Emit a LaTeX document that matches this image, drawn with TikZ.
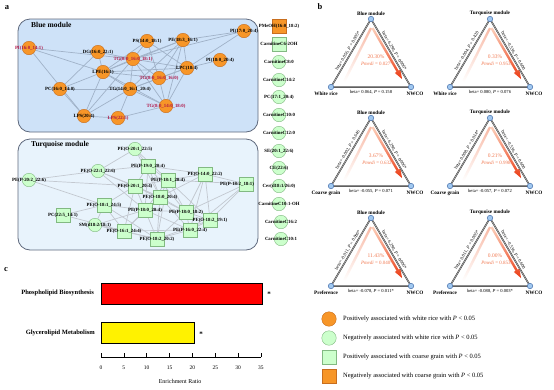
\documentclass[tikz,border=0pt]{standalone}
\usepackage{fontspec}
\setmainfont{Liberation Serif}
\usetikzlibrary{positioning,backgrounds}

\definecolor{orangeN}{RGB}{247,150,40}
\definecolor{orangeD}{RGB}{200,110,30}
\definecolor{greenN}{RGB}{204,255,204}
\definecolor{greenD}{RGB}{130,185,130}
\definecolor{blueBox}{RGB}{206,226,248}
\definecolor{tqBox}{RGB}{232,243,252}
\definecolor{boxLine}{RGB}{95,105,125}
\definecolor{bEdge}{RGB}{160,178,200}
\definecolor{tEdge}{RGB}{195,200,208}
\definecolor{redLab}{RGB}{175,20,70}
\definecolor{pctC}{RGB}{240,120,80}
\definecolor{arrTop}{RGB}{252,210,190}
\definecolor{arrBot}{RGB}{235,60,20}
\definecolor{bandC}{RGB}{248,185,165}
\definecolor{dotF}{RGB}{160,200,240}
\definecolor{dotD}{RGB}{70,110,170}

\newcommand{\medtri}[8]{%
  \begin{scope}[#1]
    \coordinate (top) at (0,0);
    \coordinate (l) at (-40,68);
    \coordinate (r) at (40,68);
    \shade[top color=bandC,bottom color=white] (-1,8.5) -- (1,9.5) -- (-25.5,63) -- (-28,62) -- cycle;
    \shade[top color=arrTop,bottom color=arrBot] (0.46,9.6) -- (2.54,8.4) -- (27.64,51.7) -- (29.37,50.69)
      -- (31.1,60.1) -- (23.83,53.91) -- (25.56,52.9) -- cycle;
    \draw[triedge] (top) -- (l) -- (r) -- cycle;
    \node[vdot] (vt) at (top) {};
    \node[vdot] (vl) at (l) {};
    \node[vdot] (vr) at (r) {};
    \node[tname,anchor=south] (ttl) at (vt.north) {#2};
    \node[tname,anchor=north] (expo) at ([xshift=-5pt,yshift=-1.5pt]vl.south) {#3};
    \node[tname,anchor=north] (outc) at ([xshift=4pt,yshift=-1.5pt]vr.south) {NWCO};
    \path (vl) -- (vt) node[beta,midway,sloped,above=1pt] {#4};
    \path (vt) -- (vr) node[beta,midway,sloped,above=1pt] {#5};
    \path (vl) -- (vr) node[beta,midway,below=2.5pt] {#6};
    \node[pct] (pc) at (5,38) {#7};
    \node[pct,font=\fontsize{5}{5.5}\selectfont] (pm) at (6,45) {\textit{Pmedi} = #8};
  \end{scope}}

\begin{document}
\begin{tikzpicture}[x=1pt,y=-1pt,
  lbl/.style={font=\fontsize{4.8}{5}\selectfont\bfseries,inner sep=0pt},
  redlbl/.style={text=redLab},
  every label/.style={lbl},
  poscirc/.style={circle,draw=orangeD,fill=orangeN,line width=0.4pt,minimum size=13.5pt,inner sep=0pt},
  negcirc/.style={circle,draw=greenD,fill=greenN,line width=0.4pt,minimum size=13.5pt,inner sep=0pt},
  possq/.style={rectangle,draw=greenD,fill=greenN,line width=0.4pt,minimum size=13.5pt,inner sep=0pt},
  negsq/.style={rectangle,draw=orangeD,fill=orangeN,line width=0.4pt,minimum size=13.5pt,inner sep=0pt},
  module/.style={draw=boxLine,line width=0.8pt,rounded corners=12pt},
  modttl/.style={font=\fontsize{7.5}{8}\selectfont\bfseries,anchor=west,inner sep=0pt},
  bedge/.style={draw=bEdge,line width=0.7pt},
  tedge/.style={draw=tEdge,line width=0.7pt},
  panel/.style={font=\fontsize{8.5}{9}\selectfont\bfseries,inner sep=0pt},
  vdot/.style={circle,draw=dotD,fill=dotF,line width=0.5pt,minimum size=5.5pt,inner sep=0pt},
  triedge/.style={draw=black!80,line width=0.45pt,double=black!30,double distance=0.6pt},
  tname/.style={font=\fontsize{5.2}{5.5}\selectfont\bfseries,inner sep=0.5pt},
  beta/.style={font=\fontsize{4.6}{5}\selectfont,inner sep=0.5pt},
  pct/.style={font=\fontsize{5.5}{6}\selectfont,text=pctC,inner sep=0pt},
  legtxt/.style={font=\fontsize{6.5}{7}\selectfont,anchor=west,inner sep=0pt},
  cat/.style={font=\fontsize{6.5}{7}\selectfont\bfseries,anchor=east,inner sep=0pt},
  tick/.style={font=\fontsize{5.5}{6}\selectfont,inner sep=0pt},
  bar/.style={draw=black,line width=0.6pt}]
  \useasboundingbox (0,0) rectangle (554,389);

  \node[panel] (pa) at (7,8) {a};
  \node[panel] (pb) at (320,7) {b};
  \node[panel] (pcc) at (6,270) {c};

  \node[modttl] (bt) at (31,25) {Blue module};
  \node[modttl] (tt) at (31,145) {Turquoise module};

  \node[poscirc,label={[redlbl]center:{PI(16:0\_14:1)}}] (pi16) at (29,48) {};
  \node[poscirc,label={center:{DG(16:0\_22:1)}}] (dg) at (98,52) {};
  \node[poscirc,label={center:{PS(14:0\_18:1)}}] (ps) at (147,41) {};
  \node[poscirc,label={center:{PE(18:3\_16:1)}}] (pe183) at (183,40) {};
  \node[poscirc,label={center:{PI(17:0\_20:4)}}] (pi17) at (244,31) {};
  \node[poscirc,label={[redlbl]center:{TG(8:0\_16:0\_18:1)}}] (tg818) at (133,59) {};
  \node[poscirc,label={center:{PI(18:0\_20:4)}}] (pi18) at (220,60) {};
  \node[poscirc,label={center:{LPE(16:1)}}] (lpe) at (103,72) {};
  \node[poscirc,label={center:{LPC(18:4)}}] (lpc) at (187,68) {};
  \node[poscirc,label={[redlbl]center:{TG(8:0\_16:0\_16:0)}}] (tg816) at (159,78) {};
  \node[poscirc,label={center:{PC(16:0\_14:0)}}] (pc16) at (60,89) {};
  \node[poscirc,label={center:{TG(14:0\_16:1\_20:4)}}] (tg14) at (130,89) {};
  \node[poscirc,label={[redlbl]center:{TG(8:0\_14:0\_18:0)}}] (tg814) at (166,106) {};
  \node[poscirc,label={center:{LPS(20:4)}}] (lps204) at (84,116) {};
  \node[poscirc,label={[redlbl]center:{LPS(22:5)}}] (lps225) at (118,118) {};

  \node[negcirc,label={center:{PE(O-20:1\_22:5)}}] (tq1) at (135,149) {};
  \node[negcirc,label={center:{PE(O-22:1\_22:6)}}] (tq2) at (98,171) {};
  \node[negcirc,label={center:{PE(P-20:2\_22:6)}}] (tq3) at (29,180) {};
  \node[possq,label={center:{PE(P-19:0\_20:4)}}] (tq4) at (148,166) {};
  \node[possq,label={center:{PE(O-14:0\_22:2)}}] (tq5) at (205,174) {};
  \node[possq,label={center:{PE(P-18:1\_20:4)}}] (tq6) at (168,180) {};
  \node[possq,label={center:{PE(O-20:1\_20:4)}}] (tq7) at (135,186) {};
  \node[possq,label={[xshift=-9pt]center:{PE(P-18:2\_18:1)}}] (tq8) at (246,184) {};
  \node[possq,label={center:{PE(O-18:0\_20:4)}}] (tq9) at (160,197) {};
  \node[possq,label={center:{PE(O-18:1\_24:5)}}] (tq10) at (104,205) {};
  \node[possq,label={center:{PE(P-18:0\_20:4)}}] (tq11) at (145,210) {};
  \node[possq,label={center:{PE(P-18:0\_18:2)}}] (tq12) at (186,212) {};
  \node[possq,label={center:{PC(22:5\_14:1)}}] (tq13) at (63,215) {};
  \node[negcirc,label={center:{SM(d18:2/18:1)}}] (tq14) at (95,225) {};
  \node[possq,label={center:{PE(O-16:1\_24:4)}}] (tq15) at (124,231) {};
  \node[possq,label={center:{PE(O-18:2\_20:2)}}] (tq16) at (157,239) {};
  \node[possq,label={center:{PE(P-16:0\_22:4)}}] (tq17) at (190,230) {};
  \node[possq,label={center:{PE(O-18:2\_19:1)}}] (tq18) at (210,220) {};

  \node[negsq,label={center:{PMeOH(16:0\_18:2)}}] (col1) at (279,26) {};
  \node[possq,label={center:{CarnitineC6-2OH}}] (col2) at (279,44) {};
  \node[negcirc,label={center:{CarnitineC8:0}}] (col3) at (279,62) {};
  \node[negcirc,label={center:{CarnitineC14:2}}] (col4) at (279,80) {};
  \node[negcirc,label={center:{PC(17:1\_20:4)}}] (col5) at (279,97) {};
  \node[negcirc,label={center:{CarnitineC10:0}}] (col6) at (279,115) {};
  \node[negcirc,label={center:{CarnitineC12:0}}] (col7) at (279,133) {};
  \node[negcirc,label={center:{SE(20:1\_22:6)}}] (col8) at (279,151) {};
  \node[negcirc,label={center:{CE(22:6)}}] (col9) at (279,168) {};
  \node[negcirc,label={center:{Cer(d18:1/26:0)}}] (col10) at (279,186) {};
  \node[negcirc,label={center:{CarnitineC10:1-OH}}] (col11) at (279,204) {};
  \node[negcirc,label={center:{CarnitineC16:2}}] (col12) at (281,222) {};
  \node[negcirc,label={center:{CarnitineC10:1}}] (col13) at (281,239) {};

  \begin{scope}[on background layer]
    \draw[module,fill=blueBox] (18,19) rectangle (258,132);
    \draw[module,fill=tqBox] (18,139) rectangle (258,250);
    \foreach \a/\b in {pi16/tg818,pi16/lpe,pi16/lps204,dg/lpe,dg/tg818,dg/pc16,lpe/ps,lpe/pe183,
      lpe/tg818,lpe/tg816,lpe/tg14,lpe/tg814,lpe/pc16,lpe/lps204,lpe/lpc,ps/tg818,ps/lpc,ps/tg816,
      pe183/tg818,pe183/lpc,pe183/tg14,pe183/pi17,pe183/tg816,pe183/tg814,tg818/lpc,tg818/tg14,
      tg818/tg816,tg818/tg814,tg818/lps204,lpc/tg816,lpc/tg14,lpc/pi17,lpc/pi18,lpc/tg814,
      pc16/tg14,pc16/lps204,tg14/tg816,tg14/tg814,tg14/lps204,tg14/lps225,tg816/tg814,
      tg814/lps225,lps204/lps225,pi17/tg818}
      \draw[bedge] (\a) -- (\b);
    \foreach \a/\b in {tq1/tq4,tq1/tq6,tq1/tq9,tq1/tq2,tq2/tq3,tq2/tq4,tq2/tq7,tq2/tq9,tq2/tq11,
      tq3/tq7,tq3/tq10,tq4/tq5,tq4/tq6,tq4/tq7,tq4/tq9,tq4/tq11,tq4/tq12,tq5/tq6,tq5/tq8,tq5/tq9,
      tq5/tq12,tq5/tq17,tq5/tq18,tq6/tq7,tq6/tq9,tq6/tq11,tq6/tq12,tq6/tq16,tq6/tq18,tq6/tq8,
      tq7/tq9,tq7/tq10,tq7/tq11,tq7/tq12,tq7/tq15,tq8/tq12,tq8/tq18,tq8/tq17,tq9/tq11,tq9/tq12,
      tq9/tq15,tq9/tq16,tq9/tq17,tq10/tq11,tq10/tq13,tq10/tq14,tq10/tq15,tq10/tq16,tq11/tq12,
      tq11/tq14,tq11/tq15,tq11/tq16,tq11/tq17,tq12/tq16,tq12/tq17,tq12/tq18,tq13/tq15,tq14/tq15,
      tq14/tq16,tq15/tq16,tq15/tq17,tq16/tq17,tq16/tq18,tq17/tq18}
      \draw[tedge] (\a) -- (\b);
  \end{scope}

  \medtri{shift={(371,19)},name prefix=w1-}{Blue module}{White rice}
    {beta= 0.056, \textit{P} = 0.005*}{beta= 6.290, \textit{P} = 0.006*}{beta= 0.064, \textit{P} = 0.158}{20.30\%}{0.027*}
  \medtri{shift={(490,19)},name prefix=w2-}{Turquoise module}{White rice}
    {beta= -0.004, \textit{P} = 0.420}{beta= -0.536, \textit{P} = 0.600}{beta= 0.080, \textit{P} = 0.076}{0.33\%}{0.953}
  \medtri{shift={(371,118)},name prefix=g1-}{Blue module}{Coarse grain}
    {beta= -0.002, \textit{P} = 0.646}{beta= 6.290, \textit{P} = 0.006*}{beta= -0.055, \textit{P} = 0.071}{3.67\%}{0.632}
  \medtri{shift={(490,118)},name prefix=g2-}{Turquoise module}{Coarse grain}
    {beta= 0.008, \textit{P} = 0.014*}{beta= -0.536, \textit{P} = 0.600}{beta= -0.057, \textit{P} = 0.072}{0.21\%}{0.998}
  \medtri{shift={(371,218)},name prefix=p1-}{Blue module}{Preference}
    {beta= -0.011, \textit{P} = 0.006*}{beta= 6.290, \textit{P} = 0.006*}{beta= -0.078, \textit{P} = 0.011*}{11.43\%}{0.040*}
  \medtri{shift={(490,218)},name prefix=p2-}{Turquoise module}{Preference}
    {beta= 0.011, \textit{P} = 0.005*}{beta= -0.536, \textit{P} = 0.600}{beta= -0.088, \textit{P} = 0.003*}{0.00\%}{0.853}

  \node[poscirc,minimum size=14.5pt] (lg1) at (329,319) {};
  \node[legtxt,right=6.5pt of lg1] (lt1) {Positively associated with white rice with \textit{P} < 0.05};
  \node[negcirc,minimum size=14.5pt] (lg2) at (329,338) {};
  \node[legtxt,right=6.5pt of lg2] (lt2) {Negatively associated with white rice with \textit{P} < 0.05};
  \node[possq,minimum size=14.5pt] (lg3) at (329,357) {};
  \node[legtxt,right=6.5pt of lg3] (lt3) {Positively associated with coarse grain with \textit{P} < 0.05};
  \node[negsq,minimum size=14.5pt] (lg4) at (329,376) {};
  \node[legtxt,right=6.5pt of lg4] (lt4) {Negatively associated with coarse grain with \textit{P} < 0.05};

  \node[cat] (phos) at (94,293) {Phospholipid Biosynthesis};
  \node[cat] (glyc) at (95,333) {Glycerolipid Metabolism};
  \draw[bar,fill=red] (101,283) rectangle (262,304);
  \draw[bar,fill=yellow] (101,322) rectangle (194,343);
  \node[font=\fontsize{7}{7}\selectfont\bfseries] (st1) at (269,294) {*};
  \node[font=\fontsize{7}{7}\selectfont\bfseries] (st2) at (201,334) {*};
  \draw[line width=0.6pt] (101,357) -- (261,357);
  \foreach \v in {0,5,...,35}{
    \draw[line width=0.6pt] (101+\v*4.571,357) -- (101+\v*4.571,353);
    \node[tick] at (101+\v*4.571,368) {\v};
  }
  \node[tick,font=\fontsize{6}{6}\selectfont] (xl) at (180,381) {Enrichment Ratio};
\end{tikzpicture}
\end{document}
